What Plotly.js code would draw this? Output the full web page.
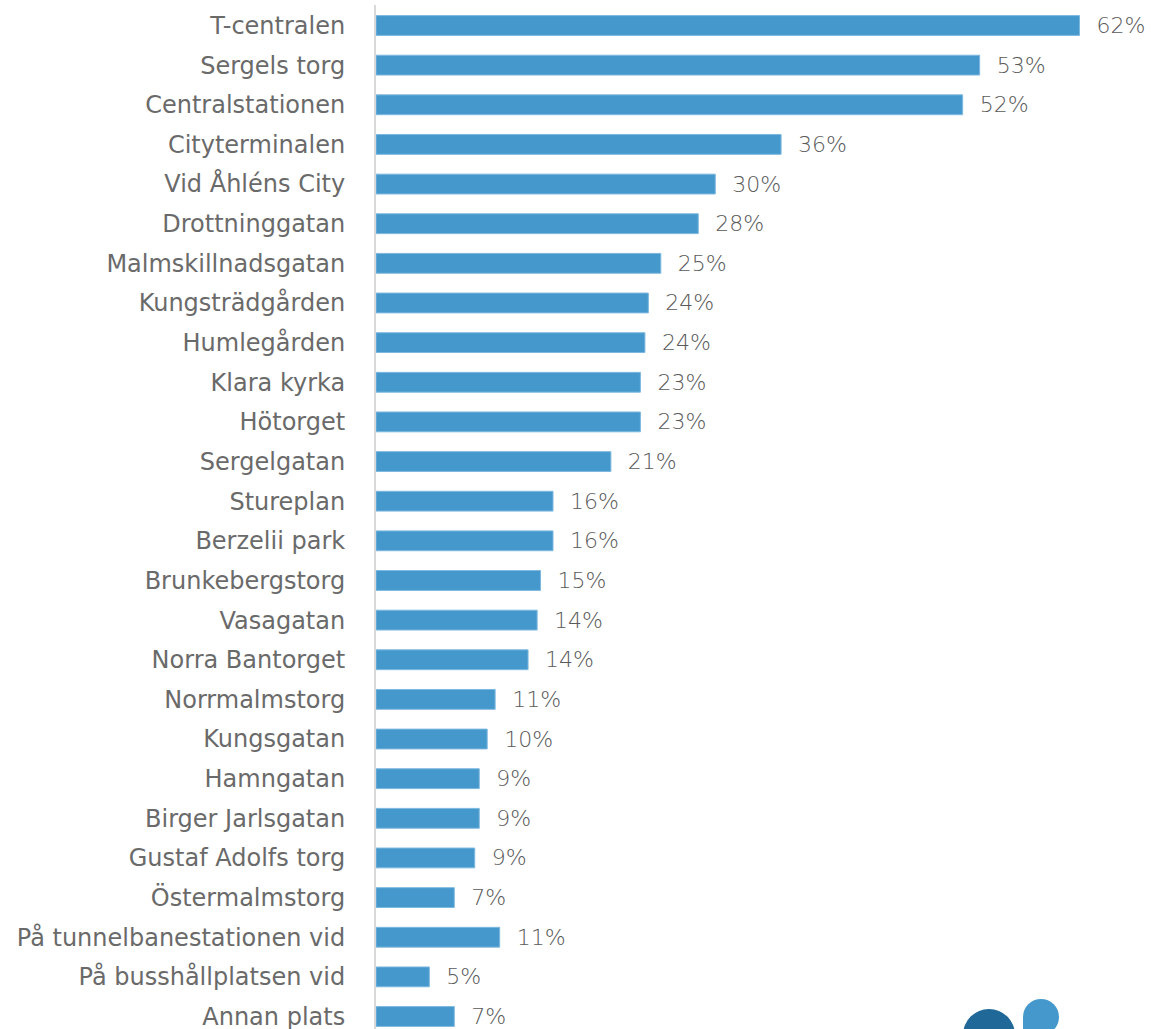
<!DOCTYPE html>
<html>
<head>
<meta charset="utf-8">
<script src="https://cdn.plot.ly/plotly-3.0.1.min.js"></script>
<style>html,body{margin:0;padding:0;background:#fff;}#chart{width:1151px;height:1029px;}</style>
</head>
<body>
<div id="chart"></div>
<script>
const categories = [
  "T-centralen","Sergels torg","Centralstationen","Cityterminalen","Vid Åhléns City",
  "Drottninggatan","Malmskillnadsgatan","Kungsträdgården","Humlegården","Klara kyrka",
  "Hötorget","Sergelgatan","Stureplan","Berzelii park","Brunkebergstorg","Vasagatan",
  "Norra Bantorget","Norrmalmstorg","Kungsgatan","Hamngatan","Birger Jarlsgatan",
  "Gustaf Adolfs torg","Östermalmstorg","På tunnelbanestationen vid","På busshållplatsen vid","Annan plats"
];
const values = [62.0,53.2,51.7,35.7,29.9,28.4,25.1,24.0,23.7,23.3,23.3,20.7,15.6,15.6,14.5,14.2,13.4,10.5,9.8,9.1,9.1,8.7,6.9,10.9,4.7,6.9];
const valueLabels = ["62%","53%","52%","36%","30%","28%","25%","24%","24%","23%","23%","21%","16%","16%","15%","14%","14%","11%","10%","9%","9%","9%","7%","11%","5%","7%"];

const trace = {
  type: "bar",
  orientation: "h",
  y: categories,
  x: values,
  text: valueLabels.map(t => "\u00a0\u00a0" + t),
  textposition: "outside",
  constraintext: "none",
  cliponaxis: false,
  textfont: {family: "'DejaVu Sans', sans-serif", size: 22, color: "#5a5a5a", weight: 200},
  marker: {color: "#4598cc", line: {color: "#7db8df", width: 1}},
  hoverinfo: "none"
};

const layout = {
  width: 1151, height: 1029,
  margin: {l: 376, r: 0, t: 5, b: 0},
  paper_bgcolor: "#ffffff", plot_bgcolor: "#ffffff",
  showlegend: false,
  bargap: 0.5,
  font: {family: "'DejaVu Sans', sans-serif", color: "#666666"},
  xaxis: {range: [0, 68.3], showgrid: false, zeroline: false, showticklabels: false, showline: false, fixedrange: true},
  yaxis: {
    type: "category", categoryorder: "array", categoryarray: categories,
    range: [25.315, -0.517], autorange: false,
    showgrid: false, zeroline: false, showline: true, linecolor: "#d9d9d9", linewidth: 2,
    ticks: "", ticklabelstandoff: 24,
    tickfont: {family: "'DejaVu Sans', sans-serif", size: 24, color: "#6a6a6a"}
  },
  shapes: [
    {type: "circle", xref: "paper", yref: "paper", layer: "above",
     x0: (963-376)/775, x1: (1015-376)/775, y0: 1-(1061-5)/1024, y1: 1-(1009-5)/1024,
     fillcolor: "#1f6898", line: {width: 0}},
    {type: "circle", xref: "paper", yref: "paper", layer: "above",
     x0: (1023-376)/775, x1: (1059-376)/775, y0: 1-(1035-5)/1024, y1: 1-(999-5)/1024,
     fillcolor: "#4598cc", line: {width: 0}},
    {type: "rect", xref: "paper", yref: "paper", layer: "above",
     x0: (1023-376)/775, x1: (1041-376)/775, y0: 1-(1035-5)/1024, y1: 1-(1017-5)/1024,
     fillcolor: "#4598cc", line: {width: 0}}
  ]
};

Plotly.newPlot("chart", [trace], layout, {displayModeBar: false, staticPlot: true});
</script>
</body>
</html>
